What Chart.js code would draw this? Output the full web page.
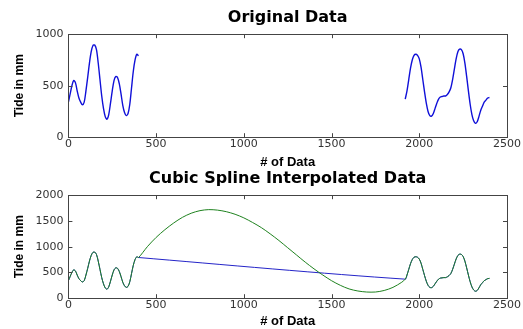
<!DOCTYPE html>
<html>
<head>
<meta charset="utf-8">
<script src="https://cdn.jsdelivr.net/npm/chart.js@4.4.0/dist/chart.umd.min.js"></script>
<style>
  html, body { margin: 0; padding: 0; background: #fff; overflow: hidden; }
  #wrap { position: relative; width: 523px; height: 329px; }
  .box { position: absolute; left: 0; width: 523px; }
  #topBox { top: 0; height: 170px; }
  #botBox { top: 163px; height: 166px; }
</style>
</head>
<body>
<div id="wrap">
  <div class="box" id="topBox"><canvas id="topChart"></canvas></div>
  <div class="box" id="botBox"><canvas id="botChart"></canvas></div>
</div>
<script>
// first recorded stretch (index, tide mm)
var seg1X = [0, 10, 20, 30, 40, 50, 60, 70, 80, 90, 100, 110, 120, 130, 140, 150, 160, 170, 180, 190,
             200, 210, 220, 230, 240, 250, 260, 270, 280, 290, 300, 310, 320, 330, 340, 350, 360, 370, 380, 390, 400];
var seg1Y = [340, 420, 500, 550, 530, 450, 380, 340, 315, 340, 450, 580, 720, 830, 890, 895, 850, 720, 560, 400,
             280, 200, 175, 220, 330, 450, 550, 590, 580, 520, 420, 310, 240, 210, 230, 320, 480, 640, 750, 805, 790];

// second recorded stretch
var seg2X = [1920, 1930, 1940, 1950, 1960, 1970, 1980, 1990, 2000, 2010, 2020, 2030, 2040, 2050, 2060, 2070,
             2080, 2090, 2100, 2110, 2120, 2130, 2140, 2150, 2160, 2170, 2180, 2190, 2200, 2210, 2220, 2230,
             2240, 2250, 2260, 2270, 2280, 2290, 2300, 2310, 2320, 2330, 2340, 2350, 2360, 2370, 2380, 2390, 2400];
var seg2Y = [370, 450, 560, 670, 750, 795, 805, 795, 760, 680, 560, 440, 330, 250, 210, 205,
             230, 280, 330, 370, 390, 395, 400, 400, 415, 440, 480, 560, 660, 760, 830, 855,
             850, 810, 720, 590, 450, 320, 220, 160, 135, 150, 200, 260, 300, 340, 360, 380, 385];

// spline across the gap
var gapX = [450, 500, 550, 600, 650, 700, 750, 800, 850, 900, 950, 1000, 1050, 1100, 1150, 1200, 1250,
            1300, 1350, 1400, 1450, 1500, 1550, 1600, 1650, 1700, 1750, 1800, 1850, 1900];
var gapY = [1000, 1180, 1330, 1460, 1570, 1650, 1700, 1720, 1710, 1680, 1630, 1560, 1470, 1370, 1250, 1120, 980,
            840, 700, 570, 450, 340, 250, 180, 140, 120, 120, 150, 210, 310];

var xTicks = [0, 500, 1000, 1500, 2000, 2500];

function pts(xs, ys) {
  return xs.map(function (x, i) { return {x: x, y: ys[i]}; });
}

var origGapped = pts(seg1X, seg1Y).concat([{x: 1000, y: null}]).concat(pts(seg2X, seg2Y));
var origJoined = pts(seg1X, seg1Y).concat(pts(seg2X, seg2Y));
var splineAll = pts(seg1X, seg1Y).concat(pts(gapX, gapY)).concat(pts(seg2X, seg2Y));

// matlab style frame with inward ticks on all four sides
var boxPlugin = {
  id: 'matlabBox',
  afterDatasetsDraw: function (chart) {
    var ctx = chart.ctx, a = chart.chartArea;
    var sx = chart.scales.x, sy = chart.scales.y;
    ctx.save();
    ctx.strokeStyle = '#444';
    ctx.lineWidth = 1;
    ctx.strokeRect(Math.round(a.left) + 0.5, Math.round(a.top) + 0.5,
                   Math.round(a.right - a.left), Math.round(a.bottom - a.top));
    ctx.beginPath();
    sx.ticks.forEach(function (t) {
      var px = Math.round(sx.getPixelForValue(t.value)) + 0.5;
      ctx.moveTo(px, a.bottom); ctx.lineTo(px, a.bottom - 4);
      ctx.moveTo(px, a.top); ctx.lineTo(px, a.top + 4);
    });
    sy.ticks.forEach(function (t) {
      var py = Math.round(sy.getPixelForValue(t.value)) + 0.5;
      ctx.moveTo(a.left, py); ctx.lineTo(a.left + 4, py);
      ctx.moveTo(a.right, py); ctx.lineTo(a.right - 4, py);
    });
    ctx.stroke();
    ctx.restore();
  }
};

function plain(v) { return String(v); }

function makeOptions(title, ymax, titlePad, xTitlePad) {
  return {
    responsive: true,
    maintainAspectRatio: false,
    animation: false,
    layout: { padding: { left: 6, right: 16, top: 0, bottom: 0 } },
    plugins: {
      legend: { display: false },
      tooltip: { enabled: false },
      title: {
        display: true, text: title, color: '#000', fullSize: false,
        font: { family: 'DejaVu Sans', size: 16, weight: 'bold' },
        padding: titlePad
      }
    },
    scales: {
      x: {
        type: 'linear', min: 0, max: 2500,
        afterBuildTicks: function (s) { s.ticks = xTicks.map(function (v) { return {value: v}; }); },
        grid: { display: false, drawTicks: false },
        border: { display: false },
        ticks: { color: '#333', padding: 0, maxRotation: 0, callback: plain,
                 font: { family: 'DejaVu Sans', size: 11 } },
        title: { display: true, text: '# of Data', color: '#000', padding: xTitlePad,
                 font: { family: 'Liberation Sans, Arial', size: 13, weight: 'bold' } }
      },
      y: {
        type: 'linear', min: 0, max: ymax,
        ticks: { stepSize: 500, color: '#333', padding: 5, callback: plain,
                 font: { family: 'DejaVu Sans', size: 11 } },
        grid: { display: false, drawTicks: false },
        border: { display: false },
        title: { display: true, text: 'Tide in mm', color: '#000', padding: { top: 6, bottom: 4 },
                 font: { family: 'Liberation Sans, Arial', size: 12, weight: 'bold' } }
      }
    },
    elements: { point: { radius: 0 }, line: { tension: 0.3 } }
  };
}

new Chart(document.getElementById('topChart'), {
  type: 'line',
  data: {
    datasets: [{
      data: origGapped, borderColor: '#1010d8', borderWidth: 1.4, spanGaps: false, fill: false
    }]
  },
  options: makeOptions('Original Data', 1000, { top: 8, bottom: 7 }, { top: 4, bottom: 0 }),
  plugins: [boxPlugin]
});

new Chart(document.getElementById('botChart'), {
  type: 'line',
  data: {
    datasets: [{
      label: 'spline', data: splineAll, borderColor: '#1f821f', borderWidth: 1, fill: false
    }, {
      label: 'original', data: origJoined, borderColor: '#2424c8', borderWidth: 1, fill: false
    }]
  },
  options: makeOptions('Cubic Spline Interpolated Data', 2000, { top: 6, bottom: 7 }, { top: 2, bottom: 0 }),
  plugins: [boxPlugin]
});
</script>
</body>
</html>
